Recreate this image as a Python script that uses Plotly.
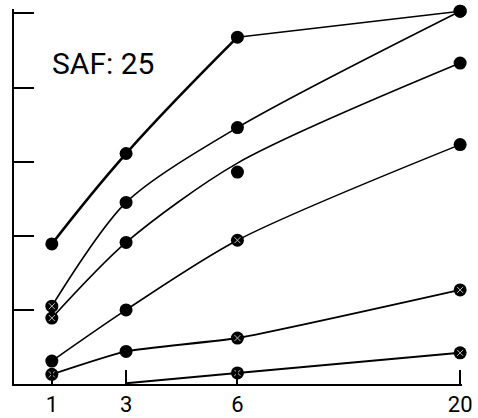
import plotly.graph_objects as go

# x positions on the (broken) display scale and their labels
x_pos = [1, 3, 6, 12]
x_labels = ["1", "3", "6", "20"]
y_ticks = [1, 2, 3, 4, 5]

# curves (y values)
c1_x = [1, 3, 6, 12]
c1_y = [1.89, 3.11, 4.68, 5.03]
c2_x = [1, 3, 6, 12]
c2_y = [1.05, 2.45, 3.46, 5.03]
c3_x = [1, 3, 6, 12]
c3_line_y = [0.89, 1.91, 2.98, 4.33]
c3_y = [0.89, 1.91, 2.86, 4.33]
c4_x = [1, 3, 6, 12]
c4_y = [0.31, 1.00, 1.94, 3.23]
c5_x = [1, 3, 6, 12]
c5_y = [0.13, 0.44, 0.62, 1.27]
c6_line_x = [3, 6, 12]
c6_line_y = [0.01, 0.15, 0.42]
c6_x = [6, 12]
c6_y = [0.15, 0.42]

# hatched (light-speckled) markers
hatch_x = [1, 1, 1, 6, 6, 6, 12, 12]
hatch_y = [1.05, 0.89, 0.13, 1.94, 0.62, 0.15, 1.27, 0.42]

label_text = "SAF: 25"
FONT = "Roboto, Liberation Sans, sans-serif"

Y_MAX = 5.06
PX_PER_Y = 74.2
TOP = 384 - Y_MAX * PX_PER_Y

fig = go.Figure()
thin = dict(color="black", width=1.6, shape="spline", smoothing=0.8)

# curve 1: thick steep part, thin flat continuation
fig.add_trace(go.Scatter(x=c1_x[:3], y=c1_y[:3], mode="lines",
                         line=dict(color="black", width=2.6, shape="spline", smoothing=1.2)))
fig.add_trace(go.Scatter(x=c1_x[2:], y=c1_y[2:], mode="lines", cliponaxis=False,
                         line=dict(color="black", width=1.5)))
fig.add_trace(go.Scatter(x=c2_x, y=c2_y, mode="lines", line=thin, cliponaxis=False))
fig.add_trace(go.Scatter(x=c3_x, y=c3_line_y, mode="lines", line=thin))
fig.add_trace(go.Scatter(x=c4_x, y=c4_y, mode="lines", line=thin))
fig.add_trace(go.Scatter(x=c5_x, y=c5_y, mode="lines",
                         line=dict(color="black", width=2.0, shape="spline", smoothing=0.5)))
fig.add_trace(go.Scatter(x=c6_line_x, y=c6_line_y, mode="lines",
                         line=dict(color="black", width=2.0, shape="spline", smoothing=0.5)))

all_x = c1_x + c2_x + c3_x + c4_x + c5_x + c6_x
all_y = c1_y + c2_y + c3_y + c4_y + c5_y + c6_y
fig.add_trace(go.Scatter(x=all_x, y=all_y, mode="markers", cliponaxis=False,
                         marker=dict(size=13, color="black", line=dict(width=0))))
fig.add_trace(go.Scatter(x=hatch_x, y=hatch_y, mode="markers", cliponaxis=False,
                         marker=dict(size=6, symbol="x-thin", line=dict(width=1, color="#bbbbbb"))))

fig.add_annotation(x=(50 - 14) / 448, y=(384 - 63) / (384 - TOP), xref="paper", yref="paper",
                   text=label_text, showarrow=False, xanchor="left", yanchor="middle",
                   font=dict(family=FONT, size=30, color="black"))

fig.update_layout(
    width=478, height=418, template="none", showlegend=False,
    margin=dict(l=14, r=16, t=TOP, b=34),
    plot_bgcolor="white", paper_bgcolor="white",
)
fig.update_xaxes(range=[-0.0195, 12.05], showgrid=False, zeroline=False, showline=True,
                 linecolor="black", linewidth=2, tickmode="array", tickvals=x_pos,
                 ticktext=x_labels, ticks="inside", ticklen=14, tickwidth=1.5, tickcolor="black",
                 tickfont=dict(family=FONT, size=22, color="black"), automargin=False)
fig.update_yaxes(range=[0, Y_MAX], showgrid=False, zeroline=False, showline=True,
                 linecolor="black", linewidth=2, tickmode="array", tickvals=y_ticks,
                 showticklabels=False, ticks="inside", ticklen=20, tickwidth=1.5,
                 tickcolor="black", automargin=False)

fig.write_html("out.html")
